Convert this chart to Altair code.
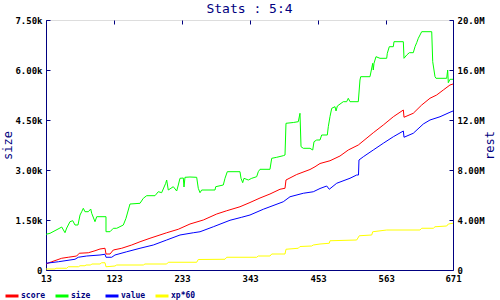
import altair as alt
import pandas as pd

# ---- data ----
size_x = [13, 19.5, 35.6, 38.4, 43.7, 46.5, 51.8, 56.2, 59.9, 64.7, 68, 70.7, 73.3, 76, 81.4, 85.3, 86.9,
          92.2, 95, 110, 110, 116.5, 121.8, 127.3, 138, 142.3, 148.8, 165, 170.3, 175.8, 189.2, 194.6, 200,
          206.5, 208.1, 210.7, 218.8, 224.3, 226.9, 229.6, 235, 236.1, 237.7, 245.8, 256.6, 259.2, 262, 264.7,
          286.2, 287.4, 299.6, 302.4, 306.1, 326.6, 328.3, 331, 333.1, 340.1, 345.6, 353.6, 356.2, 359, 375.1,
          377.9, 386, 396.6, 399.4, 401, 412.8, 420.9, 423.6, 425.3, 429, 439.8, 444.2, 446.3, 450.6, 456,
          458.7, 467.8, 469.4, 472.1, 474.9, 480.2, 481.9, 484, 493.6, 499.1, 501.7, 504.5, 517.9, 520.6,
          521.8, 536.8, 541.2, 542.1, 543.3, 546.5, 553, 563.8, 564.8, 568, 574.5, 575.6, 590.7, 591.8, 596.2,
          600.4, 606.8, 609.6, 612.3, 614.9, 620.4, 636.6, 638.2, 641.9, 643.5, 660.8, 662.4, 663.4, 666.1, 671]
size_y = [1071, 1101, 1260, 1290, 1119, 1260, 1449, 1479, 1350, 1350, 1650, 1749, 1851, 1749, 1749, 1830, 1701,
          1449, 1599, 1599, 1149, 1149, 1251, 1251, 1350, 1551, 1980, 2001, 2151, 2229, 2229, 2349, 2319,
          2601, 2700, 2400, 2499, 2370, 2550, 2751, 2760, 2490, 2781, 2790, 2781, 2451, 2319, 2400,
          2400, 2499, 2550, 2751, 2949, 2949, 2751, 2619, 2751, 2700, 2751, 2799, 2949, 3021, 3021,
          3351, 3381, 3429, 3450, 4401, 4425, 4449, 4701, 3699, 3651, 3651, 3600, 3849, 3900, 3900,
          4050, 4050, 4299, 4599, 4851, 4899, 4770, 4920, 5049, 5049, 5151, 5049, 5049, 5700,
          5799, 5799, 6201, 6000, 6201, 6399, 6351, 6351, 6501, 6699, 6699, 6849, 6849, 6351, 6450,
          6519, 6519, 6699, 6819, 6951, 7149, 7149, 6249, 5799, 5751, 5751, 6000, 5619, 5721, 5721]

score_x = [13, 22.2, 38.4, 49, 62.6, 66.8, 81.4, 92.2, 100.3, 108.4, 110, 116.5, 121.8, 135.4, 151.5, 165,
           181.1, 208.1, 226.9, 245.8, 267.3, 289, 305.1, 326.6, 342.8, 359, 375.1, 391.3, 399.4, 401, 418.3,
           439.8, 447.9, 456, 472.1, 488.3, 501.7, 517.9, 542.1, 558.3, 574.5, 590.7, 591.8, 606.8, 620.4,
           633.8, 644.6, 655.3, 666.1, 671]
score_y = [0.48, 0.66, 0.94, 1.02, 1.12, 1.34, 1.38, 1.54, 1.68, 1.74, 1.28, 1.28, 1.6, 1.74, 2.0, 2.26,
           2.54, 2.98, 3.26, 3.68, 4.0, 4.48, 4.74, 5.06, 5.4, 5.76, 6.08, 6.46, 6.54, 7.2, 7.64,
           8.04, 8.26, 8.52, 8.74, 9.12, 9.6, 10.0, 10.98, 11.6, 12.26, 12.8, 12.22, 12.54, 13.2,
           13.74, 14.0, 14.4, 14.8, 14.88]

value_x = [13, 32.9, 59.9, 65.2, 78.8, 100.3, 108.4, 110, 119.2, 124.5, 143.5, 165, 186.5, 208.1, 229.6,
           251.1, 262, 283.5, 310.5, 329.4, 342.8, 364.3, 375.1, 396.6, 407.5, 429, 445.1, 456, 466.8, 471,
           483, 504.5, 515.3, 518.2, 519, 526, 542.1, 558.3, 574.5, 590.7, 591.8, 606.8, 623, 633.8, 650,
           666.1, 671]
value_y = [0.54, 0.66, 0.86, 1.02, 1.12, 1.2, 1.26, 1.02, 1.02, 1.2, 1.46, 1.74, 2.0, 2.4, 2.8,
           2.98, 3.06, 3.46, 3.98, 4.22, 4.4, 4.86, 5.06, 5.46, 5.86, 6.14, 6.26, 6.52, 6.72, 6.46,
           6.94, 7.34, 7.6, 7.6, 8.8, 9.06, 9.6, 10.14, 10.66, 11.12, 10.62, 10.94, 11.68, 12.0, 12.26,
           12.62, 12.72]

xp_x = [13, 27.6, 29.2, 46.5, 49.1, 65.5, 68, 76, 77.7, 85.3, 86.9, 100.3, 103, 108.4, 110, 124.5, 127.3,
        170.3, 173, 208.1, 210.7, 256.6, 259.2, 302.4, 305.1, 353.6, 356.2, 375.1, 377.9, 399.4, 401, 420.9,
        423.6, 442.5, 445.1, 456, 471, 472.1, 515.3, 519.5, 539.6, 541.2, 563.8, 617.6, 620.4, 639.2, 641.9,
        660.8, 663.4, 671]
xp_y = [0.08, 0.08, 0.14, 0.14, 0.26, 0.26, 0.34, 0.34, 0.4, 0.4, 0.48, 0.48, 0.58, 0.58, 0.26, 0.32, 0.4,
        0.4, 0.48, 0.48, 0.62, 0.62, 0.84, 0.86, 1.02, 1.02, 1.12, 1.12, 1.28, 1.28, 1.66, 1.74,
        1.88, 1.92, 2.0, 2.08, 2.14, 2.34, 2.4, 2.74, 2.8, 3.06, 3.2, 3.2, 3.34, 3.34, 3.46,
        3.52, 3.68, 3.74]

series_names = ["score", "size", "value", "xp*60"]
series_colors = ["#ff0000", "#00ff00", "#0000ff", "#ffff00"]
x_ticks = [13, 123, 233, 343, 453, 563, 671]
size_ticks = [0, 1500, 3000, 4500, 6000, 7500]
rest_ticks = [0, 4, 8, 12, 16, 20]

NAVY = "#000080"
FONT = "DejaVu Sans Mono"

def frame(name, xs, ys):
    return pd.DataFrame({"x": xs, "y": ys, "series": name, "idx": range(len(xs))})

size_df = frame("size", size_x, size_y)
rest_df = pd.concat([frame("score", score_x, score_y),
                     frame("value", value_x, value_y),
                     frame("xp*60", xp_x, xp_y)], ignore_index=True)

x_enc = alt.X("x:Q", scale=alt.Scale(domain=[13, 671], nice=False, zero=False),
              axis=alt.Axis(values=x_ticks, title=None, ticks=False, labelPadding=4,
                            labelFont=FONT, labelFontSize=9, labelFontWeight="bold", labelColor="black",
                            domainColor=NAVY, domainWidth=1, grid=True, gridDash=[4, 2000],
                            gridColor=NAVY, gridOpacity=1, labelFlush=False))

color_enc = alt.Color("series:N", scale=alt.Scale(domain=series_names, range=series_colors),
                      legend=alt.Legend(orient="none", legendX=-42, legendY=268, direction="horizontal",
                                        title=None, symbolType="stroke", symbolSize=169,
                                        symbolStrokeWidth=3, labelFont=FONT, labelFontSize=8,
                                        labelFontWeight="bold",
                                        labelColor=NAVY, columnPadding=3, gridAlign="all",
                                        labelOffset=1, padding=0, columns=4))

size_layer = alt.Chart(size_df).mark_line(strokeWidth=1).encode(
    x=x_enc,
    y=alt.Y("y:Q", scale=alt.Scale(domain=[0, 7500], nice=False),
            axis=alt.Axis(orient="left", values=size_ticks, title="size", ticks=False, labelPadding=4,
                          labelExpr="datum.value == 0 ? '0' : format(datum.value / 1000, '.3r') + 'k'",
                          labelFont=FONT, labelFontSize=9, labelFontWeight="bold", labelColor="black",
                          titleFont=FONT, titleFontSize=12, titleFontWeight="normal", titleColor=NAVY,
                          titlePadding=0, domainColor=NAVY, domainWidth=1, grid=True,
                          gridDash=[4, 2000], gridColor=NAVY, gridOpacity=1)),
    color=color_enc,
    order="idx:Q",
)

rest_layer = alt.Chart(rest_df).mark_line(strokeWidth=1).encode(
    x=x_enc,
    y=alt.Y("y:Q", scale=alt.Scale(domain=[0, 20], nice=False),
            axis=alt.Axis(orient="right", values=rest_ticks, title="rest", ticks=False, labelPadding=4,
                          labelExpr="datum.value == 0 ? '0' : format(datum.value, '.3r') + 'M'",
                          labelFont=FONT, labelFontSize=9, labelFontWeight="bold", labelColor="black",
                          titleFont=FONT, titleFontSize=12, titleFontWeight="normal", titleColor=NAVY,
                          titleAngle=-90, titlePadding=12, domainColor=NAVY, domainWidth=1, grid=True,
                          gridDash=[4, 2000], gridColor=NAVY, gridOpacity=1)),
    color=color_enc,
    detail="series:N",
    order="idx:Q",
)

chart = alt.layer(size_layer, rest_layer).resolve_scale(y="independent").properties(
    width=407, height=250,
    title=alt.TitleParams("Stats : 5:4", font=FONT, fontSize=13, fontWeight="normal", color=NAVY,
                          anchor="middle", offset=0),
    autosize=alt.AutoSizeParams(type="none"),
    padding={"left": 46, "top": 20, "right": 47, "bottom": 30},
).configure_view(stroke=None).configure(background="white")

chart.save("out.html", embed_options={"renderer": "svg", "actions": False})
